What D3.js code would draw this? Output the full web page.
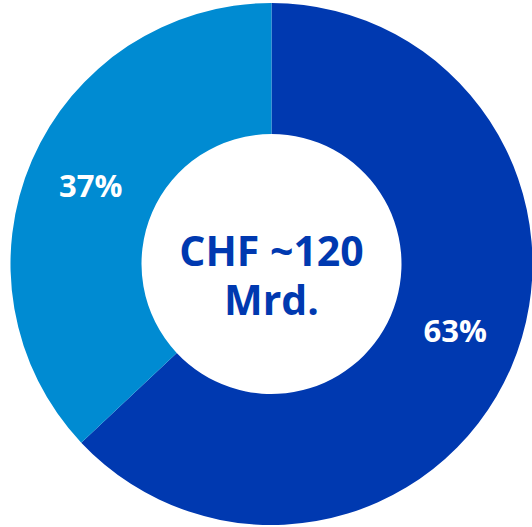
<!DOCTYPE html>
<html>
<head>
<meta charset="utf-8">
<script src="https://cdn.jsdelivr.net/npm/d3@7"></script>
<style>
  body { margin: 0; background: #fff; }
</style>
</head>
<body>
<div id="chart"></div>
<script>
// data
const labels = ["63%", "37%"]
const values = [63, 37]
const colors = ["#0039b0", "#008bd2"]
const centerLines = ["CHF ~120", "Mrd."]

const width = 532
const height = 527
const cx = 271.5, cy = 264
const outerR = 261
const innerR = 130

const svg = d3.select("#chart")
  .append("svg")
    .attr("width", width)
    .attr("height", height)
  .append("g")
    .attr("transform", `translate(${cx},${cy})`)

const pie = d3.pie().sort(null).value(d => d)
const arcs = pie(values)

const arc = d3.arc().innerRadius(innerR).outerRadius(outerR)

svg.selectAll("path")
  .data(arcs)
  .join("path")
    .attr("d", arc)
    .attr("fill", (d, i) => colors[i])

// labels sit on a ring at r ~197
const labelArc = d3.arc().innerRadius(197).outerRadius(197)
const offsets = [[3, -11], [0, 0]]  // nudge to match the original

svg.selectAll("text.pct")
  .data(arcs)
  .join("text")
    .attr("class", "pct")
    .attr("transform", (d, i) => {
      const [x, y] = labelArc.centroid(d)
      return `translate(${x + offsets[i][0]},${y + offsets[i][1]})`
    })
    .attr("text-anchor", "middle")
    .attr("dy", "0.35em")
    .style("font-family", "'Open Sans', sans-serif")
    .style("font-weight", "bold")
    .style("font-size", "31px")
    .style("fill", "#fff")
    .text((d, i) => labels[i])

svg.selectAll("text.center")
  .data(centerLines)
  .join("text")
    .attr("class", "center")
    .attr("text-anchor", "middle")
    .attr("y", (d, i) => 2 + i * 49)  // baselines
    .style("font-family", "'Open Sans', sans-serif")
    .style("font-weight", "bold")
    .style("font-size", "41px")
    .style("fill", "#0039b0")
    .text(d => d)
</script>
</body>
</html>
